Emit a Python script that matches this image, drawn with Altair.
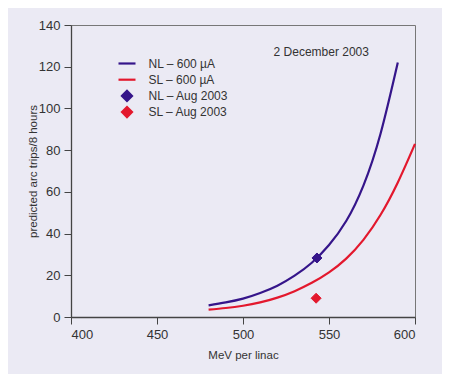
import altair as alt
import pandas as pd

# ---- data ----
mev = [480, 490, 500, 510, 520, 530, 540, 550, 560, 570, 580, 590, 600]
nl_600 = [5.6, 7.0, 8.8, 11.5, 15.0, 19.8, 26.0, 34.5, 46.0, 63.0, 88.0, 122.0, None]
sl_600 = [3.5, 4.3, 5.4, 7.0, 9.3, 12.4, 16.4, 21.4, 28.0, 37.0, 49.0, 64.5, 83.0]

aug_series = ["NL – Aug 2003", "SL – Aug 2003"]
aug_mev = [543, 542.5]
aug_trips = [28.3, 9.0]

series_names = ["NL – 600 µA", "SL – 600 µA", "NL – Aug 2003", "SL – Aug 2003"]
series_colors = ["#35158a", "#e3182d", "#35158a", "#e3182d"]
line_path = "M-1.7,0L1.7,0"
series_shapes = [line_path, line_path, "diamond", "diamond"]

x_ticks = [400, 450, 500, 550, 600]
y_ticks = [0, 20, 40, 60, 80, 100, 120, 140]

rows = []
for name, vals in (("NL – 600 µA", nl_600), ("SL – 600 µA", sl_600)):
    for m, v in zip(mev, vals):
        if v is not None:
            rows.append({"series": name, "mev": m, "trips": v})
lines_df = pd.DataFrame(rows)
pts_df = pd.DataFrame({"series": aug_series, "mev": aug_mev, "trips": aug_trips})

FONT = "Liberation Sans"
BG = "#ebeaf4"

legend = alt.Legend(
    title=None, orient="none", legendX=49.5, legendY=32,
    symbolSize=100, symbolStrokeWidth=2.2, labelOffset=15,
    labelFontSize=12, labelFont=FONT, labelColor="#333333",
    rowPadding=-2.8, gridAlign="all",
)

xenc = alt.X("mev:Q", scale=alt.Scale(domain=[400, 600], nice=False),
             axis=alt.Axis(values=x_ticks, title="MeV per linac", grid=False))
yenc = alt.Y("trips:Q", scale=alt.Scale(domain=[0, 140], nice=False),
             axis=alt.Axis(values=y_ticks, title="predicted arc trips/8 hours", grid=False))

stroke_scale = alt.Scale(domain=series_names, range=series_colors)
fill_scale = alt.Scale(domain=series_names, range=series_colors)
shape_scale = alt.Scale(domain=series_names, range=series_shapes)

lines = alt.Chart(lines_df).mark_line(strokeWidth=2.2, interpolate="natural").encode(
    x=xenc, y=yenc,
    stroke=alt.Stroke("series:N", scale=stroke_scale, legend=legend),
    detail="series:N",
)

pts = alt.Chart(pts_df).mark_point(filled=True, opacity=1, size=100, strokeWidth=1).encode(
    x=xenc, y=yenc,
    fill=alt.Fill("series:N", scale=fill_scale, legend=legend),
    stroke=alt.Stroke("series:N", scale=stroke_scale, legend=legend),
    shape=alt.Shape("series:N", scale=shape_scale, legend=legend),
)

note = alt.Chart(pd.DataFrame({"t": ["2 December 2003"]})).mark_text(
    font=FONT, fontSize=12, color="#333333", align="center", baseline="middle"
).encode(x=alt.datum(545.5), y=alt.datum(127), text="t:N")

chart = alt.layer(lines, pts, note).properties(
    width=434, height=366, background=BG,
    autosize=alt.AutoSizeParams(type="fit", contains="padding"),
    padding={"left": 19, "top": 11, "right": 22, "bottom": 13},
).configure_view(
    stroke="#777777", strokeWidth=1,
).configure_axis(
    labelFont=FONT, titleFont=FONT, labelFontSize=13, titleFontSize=11.5,
    labelColor="#333333", titleColor="#333333", titleFontWeight="normal",
    domainColor="#444444", tickColor="#444444", tickSize=7, domainWidth=1.3,
    labelPadding=4,
).configure_axisY(titlePadding=0).configure_axisX(titlePadding=8)

chart.save("out.html", embed_options={"renderer": "svg", "actions": False})
